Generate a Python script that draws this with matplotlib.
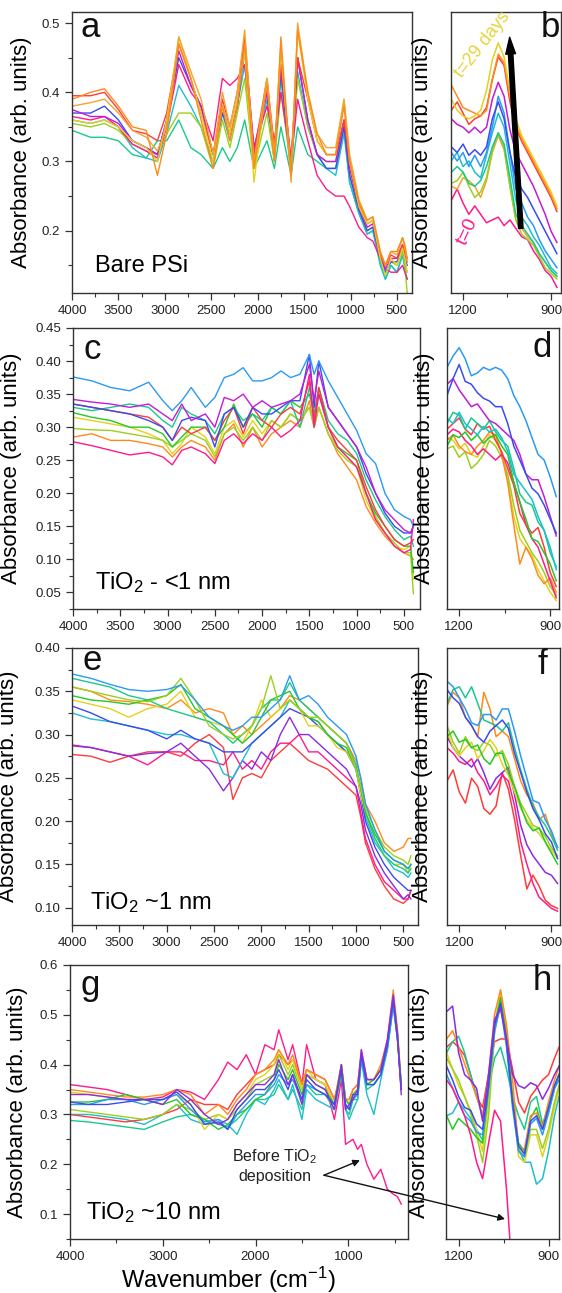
import matplotlib.pyplot as plt
from matplotlib.ticker import MultipleLocator, FormatStrFormatter

plt.rcParams['font.family'] = ['Liberation Sans', 'DejaVu Sans']
plt.rcParams['mathtext.fontset'] = 'custom'
plt.rcParams['mathtext.rm'] = 'Liberation Sans'
plt.rcParams['mathtext.it'] = 'Liberation Sans:italic'

# colours (t=0 -> t=29 days)
MAG = '#ff1a8c'; RED = '#ff3b3b'; ORG = '#ff8a1c'; LOR = '#f2a431'; YEL = '#e3d21c'
LIM = '#9ccf1f'; GRN = '#25c926'; TEA = '#19c98e'; CYA = '#1cbfcf'; LBL = '#2b9af2'
BLU = '#3a4cf0'; VIO = '#8b2be2'; PUR = '#c41bd6'

# ---------------- panel a : bare PSi ----------------
a_wn = [4000, 3800, 3650, 3500, 3350, 3200, 3080, 2980, 2850, 2720, 2610, 2480, 2380, 2300, 2220, 2140,
        2040, 1900, 1820, 1750, 1640, 1570, 1460, 1360, 1260, 1160, 1070, 1010, 910, 820, 760, 680,
        625, 565, 500, 440, 415, 390]
a_green = [.345, .335, .335, .33, .31, .305, .33, .33, .36, .32, .31, .29, .32, .30, .32, .36,
           .29, .33, .29, .35, .28, .35, .31, .30, .29, .29, .35, .27, .225, .195, .20, .155,
           .13, .15, .14, .165, .145, .13]
a_cyan = [.36, .355, .36, .35, .32, .305, .30, .34, .41, .38, .35, .30, .37, .33, .38, .44,
          .30, .39, .30, .42, .28, .43, .35, .31, .29, .28, .34, .27, .225, .195, .20, .15,
          .13, .15, .14, .165, .15, .14]
a_lime = [.355, .35, .355, .345, .325, .315, .31, .34, .37, .37, .35, .29, .36, .32, .37, .42,
          .29, .37, .30, .40, .29, .42, .35, .31, .30, .30, .36, .28, .23, .20, .205, .16,
          .14, .155, .15, .17, .15, .11]
a_magenta = [.365, .36, .365, .35, .325, .315, .305, .35, .44, .40, .38, .33, .42, .41, .42, .44,
             .32, .38, .33, .40, .30, .39, .33, .28, .26, .25, .25, .235, .205, .19, .185, .16,
             .145, .14, .14, .15, .14, .13]
a_blue = [.37, .37, .38, .36, .33, .32, .31, .36, .45, .41, .38, .31, .37, .34, .38, .46,
          .31, .40, .31, .43, .29, .45, .36, .31, .29, .29, .35, .28, .23, .20, .205, .16,
          .14, .155, .155, .175, .16, .15]
a_violet = [.375, .365, .365, .355, .33, .32, .31, .36, .46, .41, .38, .31, .38, .34, .38, .47,
            .32, .40, .31, .44, .30, .45, .36, .31, .30, .30, .36, .29, .235, .205, .21, .165,
            .145, .16, .16, .18, .165, .155]
a_red = [.395, .395, .40, .375, .345, .34, .33, .37, .47, .42, .37, .31, .39, .35, .40, .48,
         .31, .42, .32, .44, .30, .45, .39, .33, .31, .31, .36, .30, .24, .21, .215, .165,
         .15, .165, .16, .18, .17, .16]
a_yellow = [.36, .355, .36, .35, .33, .32, .30, .36, .48, .42, .37, .30, .38, .34, .39, .46,
            .27, .42, .30, .46, .28, .49, .39, .33, .31, .31, .39, .30, .235, .21, .215, .16,
            .135, .16, .15, .175, .16, .14]
a_gold = [.38, .385, .39, .37, .345, .335, .315, .35, .48, .43, .39, .31, .40, .35, .40, .49,
          .30, .42, .31, .47, .27, .50, .40, .34, .32, .32, .39, .31, .245, .215, .22, .17,
          .15, .17, .165, .19, .175, .155]
a_orange = [.39, .40, .405, .38, .35, .345, .28, .34, .47, .42, .36, .29, .38, .33, .38, .47,
            .29, .41, .30, .48, .28, .49, .40, .34, .31, .31, .38, .30, .24, .215, .22, .17,
            .15, .17, .17, .19, .18, .16]
a_curves = [a_green, a_cyan, a_lime, a_magenta, a_blue, a_violet, a_red, a_yellow, a_gold, a_orange]
a_colors = [TEA, CYA, LIM, MAG, BLU, PUR, RED, YEL, LOR, ORG]

# zoom panels share one wavenumber grid
rt_wn = [1240, 1220, 1200, 1180, 1160, 1140, 1120, 1100, 1080, 1060,
         1040, 1020, 1000, 980, 960, 940, 920, 900, 880]

# ---------------- panel b ----------------
b_magenta = [.33, .37, .32, .28, .31, .28, .25, .26, .27, .24, .26, .23, .20, .19, .15, .12, .08, .06, .02]
b_orange2 = [.38, .37, .41, .40, .38, .34, .40, .50, .56, .51, .38, .26, .23, .20, .18, .14, .11, .08, .06]
b_lime = [.39, .40, .43, .38, .34, .36, .41, .51, .57, .52, .38, .26, .21, .19, .17, .13, .09, .07, .05]
b_green = [.43, .45, .43, .39, .38, .40, .45, .52, .57, .53, .41, .28, .24, .21, .18, .14, .11, .08, .06]
b_cyan = [.47, .50, .45, .47, .43, .41, .49, .57, .64, .59, .46, .33, .27, .24, .20, .17, .13, .09, .07]
b_lightblue = [.50, .47, .50, .45, .49, .45, .50, .59, .70, .64, .50, .37, .32, .27, .24, .19, .15, .12, .09]
b_blue = [.52, .50, .53, .49, .51, .49, .52, .62, .68, .62, .50, .41, .37, .34, .30, .26, .22, .18, .14]
b_purple = [.62, .60, .59, .57, .59, .57, .59, .69, .75, .70, .58, .50, .46, .42, .38, .33, .28, .22, .18]
b_red = [.65, .68, .64, .60, .62, .63, .66, .76, .84, .81, .68, .59, .54, .50, .46, .42, .38, .34, .29]
b_orange = [.74, .70, .66, .65, .64, .63, .65, .76, .85, .82, .70, .60, .55, .51, .47, .43, .39, .35, .30]
b_yellow = [.69, .65, .63, .62, .63, .65, .72, .83, .89, .84, .72, .62, .56, .52, .48, .44, .40, .36, .31]
b_curves = [b_magenta, b_orange2, b_lime, b_green, b_cyan, b_lightblue, b_blue, b_purple, b_red, b_orange, b_yellow]
b_colors = [MAG, LOR, LIM, TEA, CYA, LBL, BLU, PUR, RED, ORG, YEL]

# ---------------- panel c : TiO2 <1 nm ----------------
c_wn = [4000, 3800, 3600, 3400, 3200, 3050, 2950, 2850, 2750, 2600, 2500, 2400, 2300, 2200, 2100, 2000,
        1900, 1800, 1700, 1600, 1500, 1450, 1400, 1300, 1200, 1100, 1000, 900, 800, 700, 600, 500,
        430, 400]
c_lightblue = [.376, .37, .36, .355, .368, .34, .325, .34, .36, .33, .345, .375, .38, .39, .37, .37,
               .375, .385, .375, .38, .41, .38, .40, .37, .345, .32, .295, .26, .245, .20, .175, .165,
               .16, .15]
c_purple = [.342, .338, .335, .33, .335, .32, .31, .335, .31, .32, .30, .345, .34, .35, .33, .34,
            .33, .335, .34, .35, .395, .34, .385, .33, .31, .29, .27, .24, .20, .175, .16, .145,
            .14, .15]
c_magenta = [.278, .272, .265, .258, .262, .255, .243, .265, .27, .26, .245, .28, .29, .275, .29, .28,
             .30, .285, .295, .31, .38, .30, .35, .30, .27, .255, .24, .20, .16, .14, .12, .11,
             .115, .16]
c_red = [.335, .33, .325, .32, .315, .30, .28, .30, .29, .30, .28, .31, .33, .29, .33, .31,
         .30, .32, .33, .32, .37, .31, .36, .30, .28, .265, .25, .21, .175, .15, .13, .12,
         .125, .13]
c_blue = [.335, .33, .325, .32, .31, .30, .28, .31, .315, .31, .27, .32, .33, .30, .33, .32,
          .32, .33, .34, .34, .41, .33, .40, .33, .31, .29, .27, .23, .20, .17, .15, .14,
          .14, .15]
c_cyan = [.33, .325, .33, .335, .33, .31, .30, .33, .32, .31, .29, .32, .33, .31, .32, .31,
          .33, .32, .34, .30, .36, .32, .36, .31, .29, .28, .26, .22, .19, .165, .145, .13,
          .135, .12]
c_green = [.322, .315, .31, .30, .30, .29, .27, .285, .30, .30, .28, .30, .335, .30, .32, .30,
           .33, .32, .34, .33, .35, .32, .35, .30, .27, .26, .25, .20, .17, .15, .13, .12,
           .12, .08]
c_lime = [.298, .296, .295, .29, .285, .28, .27, .28, .29, .28, .255, .29, .30, .28, .30, .28,
          .31, .30, .32, .31, .33, .30, .33, .29, .265, .25, .24, .20, .165, .14, .125, .11,
          .11, .048]
c_yellow = [.315, .31, .305, .30, .29, .28, .26, .275, .30, .285, .26, .30, .31, .285, .31, .29,
            .31, .30, .32, .31, .33, .30, .33, .29, .27, .255, .24, .19, .16, .14, .12, .115,
            .12, .07]
c_orange = [.285, .29, .28, .28, .275, .27, .255, .27, .28, .27, .25, .29, .305, .27, .30, .27,
            .29, .30, .31, .30, .34, .30, .33, .29, .26, .24, .22, .18, .155, .135, .12, .11,
            .105, .10]
c_curves = [c_orange, c_yellow, c_lime, c_green, c_cyan, c_red, c_magenta, c_blue, c_purple, c_lightblue]
c_colors = [ORG, YEL, LIM, GRN, TEA, RED, MAG, BLU, PUR, LBL]

# ---------------- panel d ----------------
d_lightblue = [.86, .90, .93, .89, .83, .84, .86, .85, .86, .85, .82, .76, .72, .67, .61, .55, .53, .47, .40]
d_blue = [.76, .82, .87, .81, .80, .77, .75, .74, .72, .72, .66, .58, .53, .48, .43, .41, .37, .32, .27]
d_purple = [.80, .82, .78, .75, .72, .73, .70, .67, .66, .64, .62, .60, .55, .48, .46, .46, .40, .33, .26]
d_cyan = [.68, .66, .70, .66, .64, .62, .65, .63, .64, .61, .56, .48, .45, .42, .39, .33, .28, .22, .14]
d_teal = [.66, .70, .69, .64, .68, .66, .64, .67, .63, .60, .58, .50, .41, .38, .37, .31, .28, .20, .15]
d_green = [.58, .62, .61, .63, .60, .62, .59, .61, .62, .58, .55, .45, .38, .32, .25, .24, .20, .16, .10]
d_red = [.64, .66, .68, .64, .62, .66, .64, .65, .60, .56, .50, .44, .34, .30, .27, .29, .22, .13, .08]
d_magenta = [.62, .64, .63, .60, .58, .55, .57, .55, .53, .55, .52, .45, .38, .30, .25, .22, .16, .10, .04]
d_orange = [.60, .62, .58, .56, .55, .58, .60, .63, .62, .55, .45, .30, .16, .22, .18, .12, .09, .11, .06]
d_lime = [.57, .58, .54, .56, .50, .52, .55, .60, .58, .54, .48, .37, .28, .24, .20, .17, .13, .08, .05]
d_yellow = [.61, .60, .57, .59, .55, .54, .58, .62, .60, .56, .46, .33, .25, .22, .19, .14, .10, .06, .03]
d_curves = [d_yellow, d_lime, d_orange, d_magenta, d_red, d_green, d_teal, d_cyan, d_purple, d_blue, d_lightblue]
d_colors = [YEL, LIM, ORG, MAG, RED, GRN, TEA, CYA, PUR, BLU, LBL]

# ---------------- panel e : TiO2 ~1 nm ----------------
e_wn = [4000, 3800, 3600, 3400, 3200, 3000, 2850, 2700, 2550, 2400, 2300, 2200, 2100, 2000, 1900, 1800,
        1700, 1600, 1500, 1400, 1300, 1200, 1100, 1000, 950, 900, 800, 700, 600, 500, 450, 420]
e_red = [.277, .275, .268, .275, .28, .28, .275, .29, .30, .285, .225, .25, .255, .25, .27, .28,
         .29, .28, .27, .265, .26, .25, .24, .23, .205, .175, .145, .125, .11, .105, .11, .12]
e_magenta = [.288, .285, .28, .275, .265, .28, .28, .27, .27, .265, .28, .26, .27, .26, .28, .29,
             .29, .30, .28, .28, .27, .26, .25, .24, .21, .18, .15, .13, .12, .11, .11, .12]
e_purple = [.287, .285, .28, .275, .278, .28, .29, .275, .26, .235, .25, .27, .26, .28, .27, .30,
            .32, .30, .30, .29, .28, .27, .26, .24, .22, .19, .16, .14, .125, .11, .115, .11]
e_cyan = [.325, .318, .315, .31, .305, .30, .30, .295, .29, .255, .25, .27, .29, .30, .31, .32,
          .34, .33, .32, .315, .30, .29, .28, .26, .235, .205, .175, .16, .145, .14, .135, .14]
e_blue = [.333, .325, .315, .31, .305, .295, .305, .295, .29, .28, .28, .28, .29, .30, .31, .32,
          .33, .325, .32, .31, .30, .29, .28, .26, .23, .20, .17, .15, .135, .125, .12, .12]
e_orange = [.355, .35, .34, .338, .335, .33, .34, .325, .33, .325, .30, .31, .30, .31, .32, .33,
            .345, .34, .33, .32, .31, .30, .29, .27, .25, .22, .20, .175, .165, .17, .18, .18]
e_yellow = [.34, .335, .33, .32, .33, .335, .35, .32, .315, .31, .30, .29, .31, .34, .32, .33,
            .34, .33, .31, .31, .30, .285, .28, .26, .23, .21, .18, .16, .15, .15, .14, .15]
e_teal = [.365, .36, .355, .345, .34, .33, .325, .32, .315, .30, .29, .30, .31, .33, .34, .34,
          .36, .34, .33, .32, .31, .30, .29, .265, .24, .21, .18, .16, .15, .145, .14, .145]
e_green = [.345, .34, .338, .335, .34, .345, .358, .33, .32, .31, .30, .29, .30, .32, .34, .345,
           .35, .33, .32, .315, .30, .29, .285, .26, .24, .21, .185, .165, .155, .15, .145, .15]
e_lime = [.355, .35, .345, .34, .338, .345, .365, .34, .31, .30, .295, .30, .31, .33, .368, .33,
          .34, .33, .32, .32, .31, .30, .29, .26, .24, .215, .19, .17, .16, .155, .15, .16]
e_lightblue = [.37, .365, .358, .352, .35, .352, .357, .34, .32, .31, .305, .31, .32, .32, .33, .34,
               .368, .34, .345, .335, .32, .31, .30, .275, .25, .22, .19, .165, .155, .15, .145, .15]
e_curves = [e_red, e_magenta, e_purple, e_cyan, e_blue, e_orange, e_yellow, e_teal, e_green, e_lime, e_lightblue]
e_colors = [RED, MAG, VIO, CYA, BLU, ORG, YEL, TEA, GRN, LIM, LBL]

# ---------------- panel f ----------------
f_red = [.52, .56, .48, .44, .53, .50, .42, .40, .43, .55, .49, .38, .25, .13, .18, .14, .09, .07, .06]
f_magenta = [.64, .62, .59, .58, .60, .55, .52, .47, .50, .54, .52, .43, .30, .22, .15, .10, .08, .06, .05]
f_purple = [.68, .64, .61, .59, .57, .60, .55, .49, .53, .55, .57, .47, .36, .29, .25, .22, .19, .18, .15]
f_yellow = [.70, .64, .61, .64, .66, .60, .63, .67, .64, .58, .54, .48, .42, .38, .35, .33, .30, .27, .24]
f_lime = [.72, .66, .62, .68, .64, .63, .66, .65, .61, .63, .58, .50, .44, .40, .36, .35, .32, .28, .25]
f_green = [.68, .70, .66, .67, .64, .65, .60, .58, .62, .62, .55, .50, .43, .37, .34, .35, .30, .26, .22]
f_orange = [.79, .84, .82, .75, .72, .68, .84, .78, .68, .70, .68, .60, .52, .47, .44, .38, .40, .33, .28]
f_teal = [.80, .85, .86, .82, .86, .80, .74, .73, .72, .70, .73, .64, .56, .49, .43, .39, .36, .32, .27]
f_blue = [.85, .82, .80, .75, .72, .68, .66, .70, .72, .74, .71, .62, .55, .48, .42, .38, .33, .30, .24]
f_lightblue = [.88, .86, .82, .78, .73, .72, .76, .76, .74, .78, .78, .70, .61, .53, .45, .44, .38, .34, .28]
f_curves = [f_red, f_magenta, f_purple, f_yellow, f_lime, f_green, f_orange, f_teal, f_blue, f_lightblue]
f_colors = [RED, MAG, VIO, YEL, LIM, GRN, ORG, TEA, BLU, LBL]

# ---------------- panel g : TiO2 ~10 nm ----------------
g_wn = [4000, 3800, 3600, 3400, 3200, 3000, 2850, 2700, 2550, 2400, 2300, 2200, 2100, 2000, 1900, 1800,
        1750, 1650, 1600, 1500, 1450, 1350, 1250, 1150, 1075, 1030, 990, 950, 900, 860, 800, 725,
        650, 580, 516, 470, 430]
g_before = [.36, .355, .35, .34, .33, .335, .35, .345, .33, .37, .405, .39, .42, .38, .44, .43,
            .47, .41, .44, .36, .44, .37, .36, .29, .37, .24, .245, .25, .23, .24, .20, .17,
            .19, .15, .14, .135, .12]
g_teal = [.288, .285, .28, .275, .27, .285, .295, .30, .29, .28, .275, .29, .31, .33, .33, .34,
          .36, .33, .35, .31, .36, .34, .34, .31, .38, .31, .30, .33, .33, .41, .35, .36,
          .38, .43, .52, .45, .35]
g_cyan = [.30, .30, .295, .29, .28, .30, .32, .29, .28, .29, .28, .26, .30, .33, .32, .35,
          .37, .33, .36, .29, .35, .33, .32, .31, .39, .31, .29, .31, .33, .41, .34, .30,
          .37, .43, .52, .45, .36]
g_red = [.30, .295, .29, .285, .29, .30, .31, .33, .32, .32, .31, .34, .36, .38, .39, .40,
         .42, .40, .41, .36, .39, .38, .37, .33, .39, .33, .33, .35, .36, .42, .37, .37,
         .39, .44, .54, .46, .35]
g_lime = [.31, .305, .30, .295, .29, .30, .32, .31, .29, .30, .29, .31, .33, .36, .37, .38,
          .42, .38, .40, .35, .38, .37, .36, .32, .40, .33, .32, .34, .35, .42, .36, .37,
          .39, .44, .54, .46, .36]
g_yellow = [.345, .34, .335, .33, .33, .33, .34, .32, .27, .30, .29, .32, .34, .37, .38, .40,
            .43, .39, .41, .35, .39, .37, .36, .32, .40, .33, .32, .34, .35, .42, .37, .37,
            .39, .44, .54, .46, .35]
g_orange = [.35, .345, .34, .335, .335, .34, .35, .34, .30, .32, .30, .33, .35, .38, .39, .41,
            .43, .40, .42, .36, .39, .38, .37, .33, .40, .33, .33, .35, .36, .43, .37, .37,
            .40, .45, .55, .47, .36]
g_green = [.325, .325, .33, .34, .33, .32, .33, .30, .29, .27, .28, .30, .31, .33, .34, .37,
           .40, .37, .39, .34, .38, .36, .35, .32, .40, .33, .32, .34, .35, .42, .36, .37,
           .39, .44, .53, .46, .36]
g_lightblue = [.32, .32, .33, .33, .32, .33, .34, .31, .285, .29, .27, .30, .32, .34, .34, .36,
               .38, .36, .37, .33, .36, .35, .34, .32, .39, .32, .31, .33, .34, .41, .36, .36,
               .38, .43, .52, .45, .36]
g_blue = [.325, .32, .32, .325, .33, .33, .345, .32, .28, .285, .27, .31, .33, .35, .35, .37,
          .39, .35, .38, .33, .37, .35, .34, .32, .39, .32, .31, .34, .34, .42, .36, .36,
          .38, .44, .53, .45, .35]
g_purple = [.34, .34, .335, .33, .33, .32, .35, .33, .30, .28, .29, .32, .34, .36, .36, .38,
            .41, .36, .38, .32, .38, .36, .35, .31, .40, .31, .32, .33, .35, .43, .37, .37,
            .39, .45, .54, .46, .34]
g_curves = [g_before, g_teal, g_cyan, g_red, g_lime, g_yellow, g_orange, g_green, g_lightblue, g_blue, g_purple]
g_colors = [MAG, TEA, CYA, RED, LIM, YEL, ORG, GRN, LBL, BLU, VIO]

# ---------------- panel h ----------------
h_wn = rt_wn + [865]
h_before_wn = rt_wn[:12]
h_before = [.58, .55, .50, .45, .38, .28, .22, .35, .47, .43, .18, -.15]
h_red = [.70, .72, .70, .67, .60, .52, .48, .60, .72, .73, .73, .62, .50, .46, .52, .55, .58, .60, .66, .70]
h_teal = [.68, .72, .74, .68, .60, .52, .45, .55, .66, .70, .62, .52, .45, .40, .50, .52, .42, .48, .56, .60]
h_cyan = [.45, .46, .50, .47, .44, .40, .36, .52, .76, .87, .72, .50, .33, .28, .28, .20, .22, .32, .45, .52]
h_yellow = [.68, .62, .56, .52, .47, .40, .32, .50, .78, .90, .76, .52, .30, .28, .38, .38, .30, .38, .48, .55]
h_lime = [.66, .62, .58, .52, .46, .38, .28, .45, .75, .87, .74, .50, .33, .30, .40, .40, .33, .40, .50, .56]
h_green = [.45, .40, .44, .42, .40, .37, .35, .55, .78, .88, .74, .52, .35, .32, .44, .48, .40, .46, .55, .60]
h_orange = [.73, .76, .70, .64, .58, .52, .45, .60, .82, .91, .78, .58, .33, .33, .45, .46, .41, .50, .58, .63]
h_blue = [.60, .55, .50, .45, .43, .39, .38, .55, .76, .85, .70, .48, .32, .30, .42, .44, .38, .46, .55, .58]
h_indigo = [.63, .58, .52, .48, .47, .42, .40, .56, .78, .86, .72, .50, .34, .31, .43, .45, .40, .48, .56, .60]
h_purple = [.83, .85, .68, .60, .58, .55, .43, .60, .80, .84, .73, .60, .56, .55, .57, .56, .51, .55, .60, .63]
h_curves = [h_red, h_teal, h_cyan, h_yellow, h_lime, h_green, h_orange, h_blue, h_indigo, h_purple]
h_colors = [RED, TEA, CYA, YEL, LIM, GRN, ORG, LBL, BLU, VIO]

W, H = 562, 1293
fig = plt.figure(figsize=(W / 100, H / 100), dpi=100)


def box(l, t, r, b):
    return fig.add_axes([l / W, 1 - b / H, (r - l) / W, (b - t) / H])


def style(ax, labx):
    for s in ax.spines.values():
        s.set_color('#333333')
        s.set_linewidth(1.0)
    ax.tick_params(which='major', length=5, width=0.9, labelsize=9.5, colors='#333333', labelcolor='#222222')
    ax.tick_params(which='minor', length=3, width=0.8, colors='#333333')
    ax.set_ylabel('Absorbance (arb. units)', fontsize=16)
    ax.yaxis.set_label_coords(labx, 0.5)


def wide(ax, wn, curves, colors, xlim, ylim, ystep, yfmt, labx):
    for y, c in zip(curves, colors):
        ax.plot(wn, y, color=c, lw=1.0)
    ax.set_xlim(*xlim)
    ax.set_ylim(*ylim)
    ax.xaxis.set_major_locator(MultipleLocator(500))
    ax.xaxis.set_minor_locator(MultipleLocator(250))
    ax.yaxis.set_major_locator(MultipleLocator(ystep))
    ax.yaxis.set_minor_locator(MultipleLocator(ystep / 2))
    ax.yaxis.set_major_formatter(FormatStrFormatter(yfmt))
    style(ax, labx)


def narrow(ax, wn, curves, colors, xlim, labx):
    for y, c in zip(curves, colors):
        ax.plot(wn, y, color=c, lw=1.1)
    ax.set_xlim(*xlim)
    ax.set_ylim(0, 1)
    ax.set_xticks([1200, 900])
    ax.set_xticks([1050], minor=True)
    ax.set_yticks([])
    style(ax, labx)


def letter(ax, x, y, s, ha='left'):
    ax.text(x, y, s, transform=ax.transAxes, fontsize=25, ha=ha, va='center', color='#111111')


ax_a = box(72, 12, 412, 293)
wide(ax_a, a_wn, a_curves, a_colors, (4000, 338), (0.11, 0.516), 0.1, '%.1f', -0.118)
letter(ax_a, 0.024, 0.945, 'a')
ax_a.text(0.068, 0.095, 'Bare PSi', transform=ax_a.transAxes, fontsize=17, va='center')

ax_b = box(451, 12, 561, 293)
narrow(ax_b, rt_wn, b_curves, b_colors, (1241, 866), -0.164)
letter(ax_b, 0.99, 0.945, 'b', ha='right')
ax_b.annotate('', xy=(1041, 0.91), xytext=(1003, 0.23),
              arrowprops=dict(arrowstyle='simple,head_width=0.7,head_length=1.2,tail_width=0.32',
                              color='black', mutation_scale=10, shrinkA=0, shrinkB=0))
ax_b.text(1132, 0.883, 't=29 days', color='#e6d43a', fontsize=13, rotation=52, ha='center', va='center')
ax_b.text(1185, 0.217, 't=0', color=MAG, fontsize=14, rotation=65, ha='center', va='center')

ax_c = box(73, 328, 420, 609)
wide(ax_c, c_wn, c_curves, c_colors, (4000, 330), (0.025, 0.45), 0.05, '%.2f', -0.148)
letter(ax_c, 0.03, 0.925, 'c')
ax_c.text(0.063, 0.093, 'TiO$_2$ - <1 nm', transform=ax_c.transAxes, fontsize=17, va='center')

ax_d = box(447, 328, 559, 609)
narrow(ax_d, rt_wn, d_curves, d_colors, (1240, 871), -0.107)
letter(ax_d, 0.94, 0.93, 'd', ha='right')

ax_e = box(72, 648, 418, 925)
wide(ax_e, e_wn, e_curves, e_colors, (4000, 345), (0.08, 0.40), 0.05, '%.2f', -0.153)
letter(ax_e, 0.03, 0.955, 'e')
ax_e.text(0.052, 0.08, 'TiO$_2$ ~1 nm', transform=ax_e.transAxes, fontsize=17, va='center')

ax_f = box(447, 648, 560, 925)
narrow(ax_f, rt_wn, f_curves, f_colors, (1240, 872), -0.124)
letter(ax_f, 0.89, 0.94, 'f', ha='right')

ax_g = box(70, 965, 408, 1239)
wide(ax_g, g_wn, g_curves, g_colors, (4000, 357), (0.05, 0.6), 0.1, '%.1f', -0.124)
ax_g.xaxis.set_major_locator(MultipleLocator(1000))
ax_g.xaxis.set_minor_locator(MultipleLocator(500))
letter(ax_g, 0.03, 0.927, 'g')
ax_g.text(0.047, 0.095, 'TiO$_2$ ~10 nm', transform=ax_g.transAxes, fontsize=17, va='center')
ax_g.set_xlabel('Wavenumber (cm$^{-1}$)', fontsize=17)
ax_g.xaxis.set_label_coords(0.467, -0.095)

ax_h = box(446, 965, 559, 1239)
narrow(ax_h, h_wn, h_curves, h_colors, (1242, 865), -0.14)
ax_h.plot(h_before_wn, h_before, color=MAG, lw=1.1)
ax_h.set_ylim(0, 1)
letter(ax_h, 0.94, 0.945, 'h', ha='right')

ax_g.text(1790, 0.197, 'Before TiO$_2$\ndeposition', fontsize=11.5, ha='center', va='center',
          linespacing=1.3, color='#222222')
arr = dict(arrowstyle='-|>', color='#111111', lw=1.0, mutation_scale=10, shrinkA=0, shrinkB=0)
ax_g.annotate('', xy=(875, 0.208), xytext=(1263, 0.178), arrowprops=arr)
# second arrow is attached to panel h so it is drawn on top of it
ax_h.annotate('', xy=(1045, 0.073), xytext=(1263, 0.178), textcoords=ax_g.transData,
              arrowprops=arr, annotation_clip=False)

fig.savefig('out.png', dpi=100)
